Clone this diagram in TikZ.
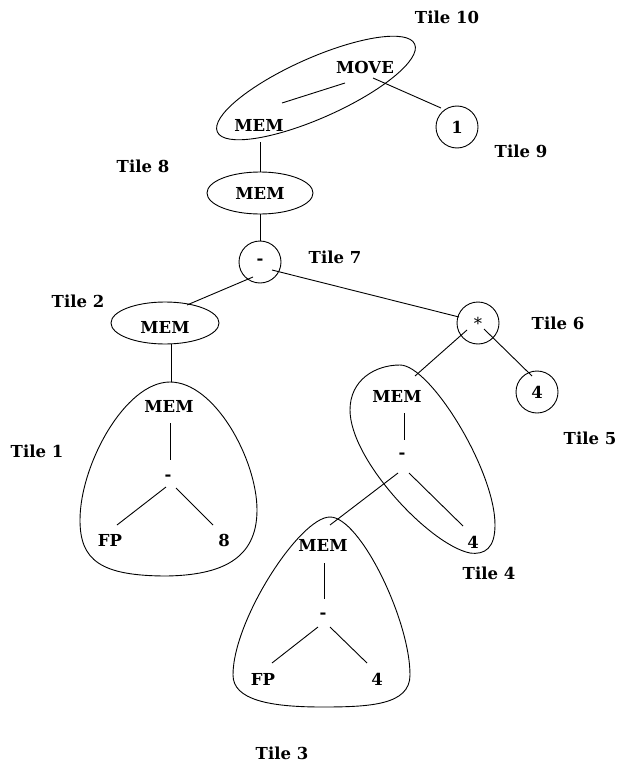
\documentclass[tikz,border=0pt]{standalone}
\usepackage{fontspec}
\setmainfont{DejaVu Serif}
\usetikzlibrary{shapes.geometric}
\begin{document}
\begin{tikzpicture}[x=1pt,y=-1pt,
  every node/.style={inner sep=0pt, font=\fontsize{16.5}{19}\selectfont\bfseries},
  lw/.style={line width=0.9pt},
  circ/.style={draw, lw, circle, minimum size=42},
  oval/.style={draw, lw, ellipse, minimum width=106, minimum height=42},
  blob/.style={draw, lw},
  conn/.style={draw, lw}]
\useasboundingbox (0,0) rectangle (619,765);

% Tile labels
\node (L10) at (447,17) {Tile 10};
\node (L9)  at (521,151) {Tile 9};
\node (L8)  at (143,166) {Tile 8};
\node (L7)  at (335,257) {Tile 7};
\node (L2)  at (78,301) {Tile 2};
\node (L6)  at (558,323) {Tile 6};
\node (L5)  at (590,438) {Tile 5};
\node (L1)  at (37,451) {Tile 1};
\node (L4)  at (489,573) {Tile 4};
\node (L3)  at (282,753) {Tile 3};

% Tile 10
\node[draw, lw, ellipse, minimum width=216, minimum height=60, rotate=24] (T10) at (316,88) {};
\node (MOVE) at (365,67) {MOVE};
\node (MEMa) at (259,125) {MEM};
\node[circ] (one) at (457,127) {1};

% Tile 8
\node[oval] (MEMb) at (260,193) {MEM};
% Tile 7
\node[circ] (m7) at (260,262) {-};
% Tile 2
\node[oval, minimum width=108] (MEMc) at (165,323) {};
\node (MEMctext) at (165,327) {MEM};
% Tile 6
\node[circ] (s6) at (478,323) {\mdseries *};
% Tile 5
\node[circ] (four5) at (537,392) {4};

% Tile 1
\node (MEMd) at (169,406) {MEM};
\node (m1) at (168,478) {-};
\node (FP1) at (110,540) {FP};
\node (eight) at (224,540) {8};
\draw[blob] (170,382) .. controls (215,382) and (257,460) .. (257,510)
  .. controls (257,560) and (220,575) .. (167,576)
  .. controls (100,576) and (80,560) .. (80,520)
  .. controls (80,465) and (125,382) .. (170,382) -- cycle;

% Tile 4
\node (MEMe) at (397,396) {MEM};
\node (m4) at (402,456) {-};
\node (four4) at (473,542) {4};
\draw[blob] (400,365) .. controls (430,365) and (495,470) .. (495,525)
  .. controls (495,548) and (485,555) .. (470,553)
  .. controls (430,545) and (350,460) .. (350,410)
  .. controls (350,380) and (375,365) .. (400,365) -- cycle;

% Tile 3
\node (MEMf) at (323,545) {MEM};
\node (m3) at (323,616) {-};
\node (FP3) at (263,679) {FP};
\node (four3) at (377,679) {4};
\draw[blob] (330,517) .. controls (360,517) and (410,620) .. (410,675)
  .. controls (410,705) and (370,707) .. (322,707)
  .. controls (270,707) and (233,700) .. (233,675)
  .. controls (233,620) and (300,517) .. (330,517) -- cycle;

% connector end points
\coordinate (a1) at (282,103); \coordinate (a2) at (345,83);
\coordinate (b1) at (373,78);  \coordinate (b2) at (441,108);
\coordinate (c1) at (260,142); \coordinate (c2) at (260,172);
\coordinate (d1) at (253,277); \coordinate (d2) at (187,305);
\coordinate (e1) at (272,270); \coordinate (e2) at (459,317);
\coordinate (f1) at (171,344); \coordinate (f2) at (171,382);
\coordinate (g1) at (170,423); \coordinate (g2) at (170,460);
\coordinate (h1) at (166,487); \coordinate (h2) at (117,525);
\coordinate (i1) at (176,488); \coordinate (i2) at (213,525);
\coordinate (j1) at (484,329); \coordinate (j2) at (532,376);
\coordinate (k1) at (467,330); \coordinate (k2) at (415,376);
\coordinate (l1) at (404,413); \coordinate (l2) at (404,440);
\coordinate (n1) at (409,473); \coordinate (n2) at (463,526);
\coordinate (o1) at (398,473); \coordinate (o2) at (330,525);
\coordinate (p1) at (324,563); \coordinate (p2) at (324,599);
\coordinate (q1) at (318,627); \coordinate (q2) at (272,663);
\coordinate (r1) at (330,627); \coordinate (r2) at (367,663);

\draw[conn] (a1) -- (a2);
\draw[conn] (b1) -- (b2);
\draw[conn] (c1) -- (c2);
\draw[conn] (MEMb.south) -- (m7.north);
\draw[conn] (d1) -- (d2);
\draw[conn] (e1) -- (e2);
\draw[conn] (f1) -- (f2);
\draw[conn] (g1) -- (g2);
\draw[conn] (h1) -- (h2);
\draw[conn] (i1) -- (i2);
\draw[conn] (j1) -- (j2);
\draw[conn] (k1) -- (k2);
\draw[conn] (l1) -- (l2);
\draw[conn] (n1) -- (n2);
\draw[conn] (o1) -- (o2);
\draw[conn] (p1) -- (p2);
\draw[conn] (q1) -- (q2);
\draw[conn] (r1) -- (r2);
\end{tikzpicture}
\end{document}
